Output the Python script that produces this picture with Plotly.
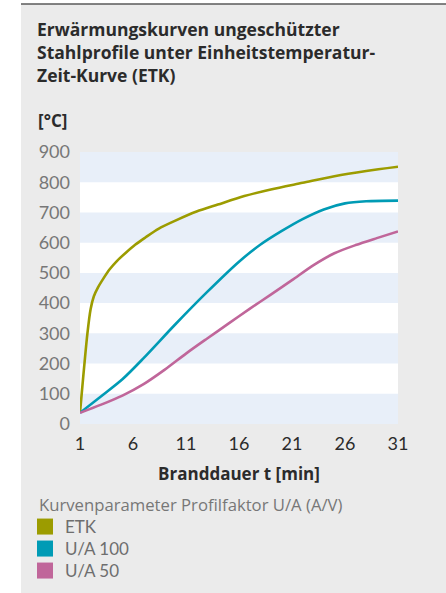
import plotly.graph_objects as go

# ---- data ----
etk_t = [1, 1.7, 2.0, 2.3, 2.7, 3.2, 3.8, 4.5, 5.3, 6.2, 7.2, 8.4, 10, 12, 14, 16.5, 19, 22, 25, 28, 31]
etk_v = [37, 300, 380, 422, 452, 481, 512, 540, 566, 593, 618, 646, 673, 703, 726, 754, 776, 798, 820, 837, 851]

ua100_t = [1, 3, 5, 7, 10, 13, 16, 18, 20, 22, 24, 26, 28, 31]
ua100_v = [37, 92, 148, 218, 330, 437, 537, 593, 638, 678, 710, 730, 737, 739]

ua50_t = [1, 3, 5, 7, 9, 11, 13, 15, 17, 19, 21, 23, 25, 27, 29, 31]
ua50_v = [37, 64, 94, 132, 180, 233, 283, 332, 381, 428, 476, 525, 565, 592, 615, 637]

series_names = ["ETK", "U/A 100", "U/A 50"]
series_colors = ["#9c9c00", "#009bb5", "#c0669a"]

x_ticks = [1, 6, 11, 16, 21, 26, 31]
y_ticks = [0, 100, 200, 300, 400, 500, 600, 700, 800, 900]

title_text = ("<b>Erwärmungskurven ungeschützter<br>"
              "Stahlprofile unter Einheitstemperatur-<br>"
              "Zeit-Kurve (ETK)</b>")
y_unit = "<b>[°C]</b>"
x_title = "<b>Branddauer t [min]</b>"
legend_title = "Kurvenparameter Profilfaktor U/A (A/V)"

# ---- layout geometry ----
W, H = 446, 593
L, R, T, B = 80, 48, 152, 169
PW, PH = W - L - R, H - T - B
FONT = "Lato"
FONT2 = "Open Sans"


def px_x(p):
    return (p - L) / PW


def px_y(p):
    return (H - B - p) / PH


fig = go.Figure()
data = [(etk_t, etk_v), (ua100_t, ua100_v), (ua50_t, ua50_v)]
legends = ["legend", "legend2", "legend3"]
for (t, v), name, col, lg in zip(data, series_names, series_colors, legends):
    fig.add_trace(go.Scatter(x=t, y=v, mode="lines", name=name, showlegend=False,
                             line=dict(color=col, width=2.6, shape="spline", smoothing=0.8),
                             hoverinfo="skip"))
    fig.add_trace(go.Scatter(x=[None], y=[None], mode="markers", name=name, legend=lg,
                             marker=dict(symbol="square", size=16, color=col,
                                         line=dict(width=0))))

shapes = []
# white page strips around the grey panel
shapes.append(dict(type="rect", xref="paper", yref="paper", layer="below",
                   x0=px_x(0), x1=px_x(21), y0=px_y(H + 5), y1=px_y(-5),
                   fillcolor="white", line=dict(width=0)))
shapes.append(dict(type="rect", xref="paper", yref="paper", layer="below",
                   x0=px_x(0), x1=px_x(W + 5), y0=px_y(4), y1=px_y(-5),
                   fillcolor="white", line=dict(width=0)))
shapes.append(dict(type="line", xref="paper", yref="paper", layer="below",
                   x0=px_x(21), x1=px_x(W + 5), y0=px_y(4), y1=px_y(4),
                   line=dict(color="#5a5a5a", width=1.5)))
# alternating bands
for lo in range(0, 900, 200):
    shapes.append(dict(type="rect", xref="paper", yref="y", layer="below",
                       x0=0, x1=1, y0=lo, y1=lo + 100,
                       fillcolor="#e8eff9", line=dict(width=0)))

annotations = [
    dict(text=y_unit, xref="paper", yref="paper", x=px_x(36), y=px_y(121),
         xanchor="left", yanchor="middle", showarrow=False,
         font=dict(family=FONT2, size=17, color="#2b2b2b")),
    dict(text=legend_title, xref="paper", yref="paper", x=px_x(37), y=px_y(504),
         xanchor="left", yanchor="middle", showarrow=False,
         font=dict(family=FONT2, size=16.7, color="#777777")),
]

leg_common = dict(xref="paper", yref="paper", xanchor="left", yanchor="middle",
                  bgcolor="rgba(0,0,0,0)", borderwidth=0, itemsizing="trace",
                  font=dict(family=FONT, size=17, color="#6e6e6e"),
                  itemclick=False, itemdoubleclick=False)

fig.update_layout(
    width=W, height=H,
    margin=dict(l=L, r=R, t=T, b=B, pad=0, autoexpand=False),
    paper_bgcolor="#ebebeb",
    plot_bgcolor="white",
    font=dict(family=FONT),
    title=dict(text=title_text, xref="container", yref="container",
               x=37 / W, y=1 - 36 / H, xanchor="left", yanchor="top",
               font=dict(family=FONT2, size=17.5, color="#2b2b2b")),
    xaxis=dict(range=[1, 31], tickvals=x_ticks, showgrid=False, zeroline=False,
               showline=False, ticks="", ticklabelstandoff=7, automargin=False,
               tickfont=dict(family=FONT, size=18, color="#2b2b2b"),
               title=dict(text=x_title, standoff=15,
                          font=dict(family=FONT2, size=17, color="#2b2b2b")),
               fixedrange=True),
    yaxis=dict(range=[0, 900], tickvals=y_ticks, showgrid=False, zeroline=False,
               showline=False, ticks="", ticklabelstandoff=9, automargin=False,
               tickfont=dict(family=FONT, size=18, color="#777777"),
               fixedrange=True),
    shapes=shapes,
    annotations=annotations,
    legend=dict(x=px_x(25), y=px_y(527), **leg_common),
    legend2=dict(x=px_x(25), y=px_y(549), **leg_common),
    legend3=dict(x=px_x(25), y=px_y(571), **leg_common),
    showlegend=True,
)

fig.write_html("out.html", config={"displayModeBar": False},
               post_script="document.body.style.margin='0';document.body.style.overflow='hidden';")
